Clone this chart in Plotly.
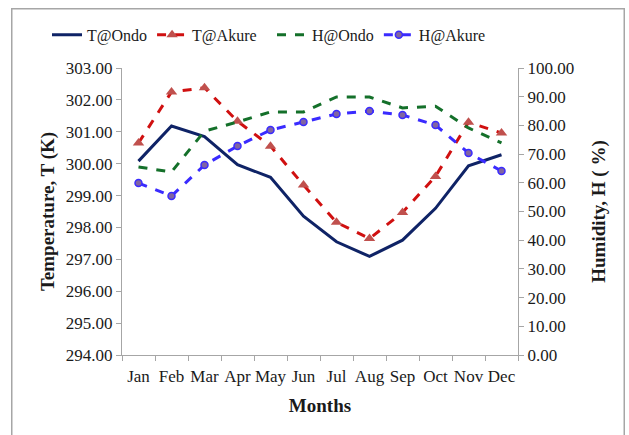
import plotly.graph_objects as go

months = ["Jan", "Feb", "Mar", "Apr", "May", "Jun", "Jul", "Aug", "Sep", "Oct", "Nov", "Dec"]
t_ondo = [300.08, 301.18, 300.85, 299.97, 299.57, 298.35, 297.55, 297.09, 297.6, 298.6, 299.93, 300.28]
t_akure = [300.65, 302.25, 302.38, 301.33, 300.55, 299.33, 298.16, 297.65, 298.47, 299.6, 301.3, 300.96]
h_ondo = [65.5, 63.8, 78.0, 81.2, 84.7, 84.7, 89.9, 89.9, 86.1, 86.7, 79.1, 73.9]
h_akure = [59.9, 55.4, 66.2, 72.8, 78.4, 81.2, 84.0, 85.0, 83.6, 80.1, 70.4, 64.1]

left_ticks = [294 + i for i in range(10)]
right_ticks = [10 * i for i in range(11)]

font = "Liberation Serif"
txt = "#1a1a1a"

fig = go.Figure()
fig.add_trace(go.Scatter(x=months, y=t_ondo, name="T@Ondo", mode="lines", legend="legend",
                         line=dict(color="#0F2366", width=3)))
fig.add_trace(go.Scatter(x=months, y=t_akure, name="T@Akure", mode="lines+markers", legend="legend",
                         line=dict(color="#D01010", width=3, dash="dash"),
                         marker=dict(symbol="triangle-up", size=10, color="#C0504D")))
fig.add_trace(go.Scatter(x=months, y=h_ondo, name="H@Ondo", mode="lines", yaxis="y2", legend="legend2",
                         line=dict(color="#14702A", width=3, dash="dash")))
fig.add_trace(go.Scatter(x=months, y=h_akure, name="H@Akure", mode="lines+markers", yaxis="y2",
                         legend="legend2",
                         line=dict(color="#3A2BFF", width=3, dash="dash"),
                         marker=dict(symbol="circle", size=7, color="#8064A2",
                                     line=dict(color="#3A2BFF", width=1.5))))

axis_common = dict(showgrid=False, zeroline=False, showline=True, linecolor="#A6A6A6",
                   linewidth=1, ticks="outside", tickcolor="#A6A6A6", ticklen=5,
                   tickfont=dict(family=font, size=17, color=txt))

title_font = dict(family=font, size=19, color=txt)

legend_common = dict(orientation="h", xref="container", yref="container",
                     xanchor="left", y=0.92, yanchor="middle",
                     font=dict(family=font, size=16, color=txt),
                     tracegroupgap=0, bgcolor="rgba(0,0,0,0)", borderwidth=0)

fig.update_layout(
    width=629, height=435,
    margin=dict(l=122, r=111, t=68, b=80, autoexpand=False),
    paper_bgcolor="white", plot_bgcolor="white",
    font=dict(family=font, color=txt),
    showlegend=True,
    legend=dict(**legend_common, x=47 / 629),
    legend2=dict(**legend_common, x=272 / 629),
    xaxis=dict(**axis_common, type="category", tickson="boundaries", tickangle=0,
               range=[-0.5, 11.5], ticklabelstandoff=6,
               title=dict(text="<b>Months</b>", font=title_font, standoff=13)),
    yaxis=dict(**axis_common, range=[294, 303], tickvals=left_ticks,
               ticktext=[f"{v:.2f}" for v in left_ticks],
               title=dict(text="<b>Temperature, T (K)</b>", font=title_font, standoff=6)),
    yaxis2=dict(**axis_common, overlaying="y", side="right", range=[0, 100],
                tickvals=right_ticks, ticktext=[f"{v:.2f}" for v in right_ticks],
                title=dict(text="<b>Humidity, H ( %)</b>", font=title_font, standoff=18)),
)

# outer chart border, drawn as an empty bordered annotation box
fig.add_annotation(text=" ", showarrow=False, xref="paper", yref="paper",
                   x=(318 - 122) / 396, xanchor="center",
                   y=(355 - 8) / 287, yanchor="top",
                   width=611, height=440, borderpad=0,
                   bordercolor="#A6A6A6", borderwidth=1.5, bgcolor="rgba(0,0,0,0)")

fig.write_html("out.html", config={"displayModeBar": False})

# remove the browser's default page margin so the figure sits at the window origin
with open("out.html", encoding="utf-8") as f:
    html = f.read()
html = html.replace("<head>", "<head><style>html,body{margin:0;padding:0;overflow:hidden;}</style>", 1)
with open("out.html", "w", encoding="utf-8") as f:
    f.write(html)
